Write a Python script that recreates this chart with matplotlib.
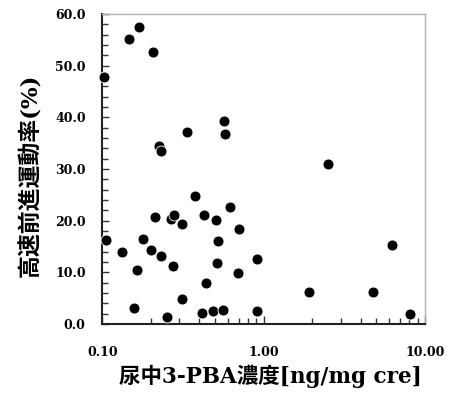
import matplotlib
matplotlib.use('Agg')
import matplotlib.pyplot as plt
from matplotlib.ticker import FixedLocator, MultipleLocator, LogLocator, NullFormatter

# urinary 3-PBA concentration [ng/mg cre] vs rapid progressive motility (%)
pba = [0.1026, 0.146, 0.168, 0.206, 0.225, 0.232, 0.333, 0.571, 0.577,
       0.105, 0.133, 0.157, 0.164, 0.179, 0.200, 0.211, 0.231, 0.252, 0.265,
       0.279, 0.273, 0.313, 0.310, 0.374, 0.417, 0.425, 0.438, 0.488, 0.509,
       0.519, 0.512, 0.560, 0.614, 0.705, 0.698, 0.908, 0.912,
       2.49, 6.25, 1.92, 4.74, 8.09]
motility = [47.9, 55.1, 57.5, 52.6, 34.4, 33.4, 37.1, 39.2, 36.8,
            16.2, 13.9, 3.0, 10.5, 16.5, 14.3, 20.8, 13.1, 1.4, 20.3,
            21.0, 11.2, 19.4, 4.8, 24.8, 2.1, 21.1, 8.0, 2.6, 20.1,
            16.1, 11.9, 2.8, 22.6, 18.3, 9.9, 12.5, 2.6,
            30.9, 15.3, 6.1, 6.1, 2.0]

xticks = [0.1, 1, 10]
xtick_labels = ['0.10', '1.00', '10.00']
yticks = [0, 10, 20, 30, 40, 50, 60]

plt.rcParams['font.family'] = ['DejaVu Serif', 'Noto Sans CJK JP']
plt.rcParams['font.weight'] = 'bold'

fig = plt.figure(figsize=(4.49, 3.94), dpi=100)
ax = fig.add_axes([0.228, 0.1777, 0.7185, 0.7868])

ax.scatter(pba, motility, s=62, c='black', edgecolors='white', linewidths=0.6, zorder=3, clip_on=False)

ax.set_xscale('log')
ax.set_xlim(0.1, 10)
ax.set_ylim(0, 60)

ax.xaxis.set_major_locator(FixedLocator(xticks))
ax.set_xticklabels(xtick_labels)
ax.xaxis.set_minor_locator(LogLocator(base=10, subs=range(2, 10)))
ax.xaxis.set_minor_formatter(NullFormatter())
ax.yaxis.set_major_locator(FixedLocator(yticks))
ax.set_yticklabels([f'{v:.1f}' for v in yticks])
ax.yaxis.set_minor_locator(MultipleLocator(2))

ax.tick_params(which='both', direction='in', top=False, right=False, width=1.0, color='#333333')
ax.tick_params(axis='y', which='major', length=5, pad=12, labelsize=9)
ax.tick_params(axis='y', which='minor', length=4)
ax.tick_params(axis='x', which='major', length=6, pad=16, labelsize=9)
ax.tick_params(axis='x', which='minor', length=4)

for side in ['left', 'bottom']:
    ax.spines[side].set_linewidth(1.5)
    ax.spines[side].set_color('#222222')
for side in ['top', 'right']:
    ax.spines[side].set_linewidth(1.0)
    ax.spines[side].set_color('#b0b0b0')

ax.set_xlabel('尿中3-PBA濃度[ng/mg cre]', fontsize=15.5, fontweight='bold', labelpad=4)
ax.set_ylabel('高速前進運動率(%)', fontsize=16.5, fontweight='bold', labelpad=9)
ax.xaxis.label.set_x(0.522)
ax.yaxis.label.set_y(0.48)

fig.savefig('out.png', dpi=100)
